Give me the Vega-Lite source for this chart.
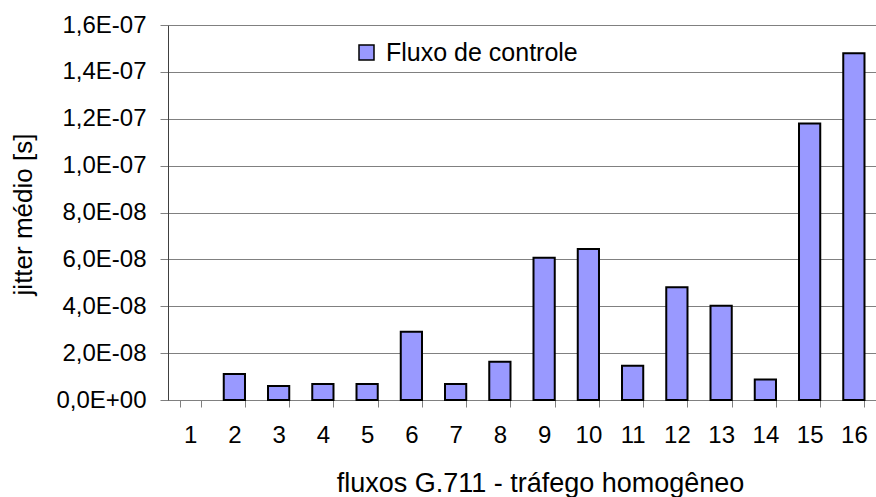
{
  "$schema": "https://vega.github.io/schema/vega-lite/v6.json",
  "width": 708,
  "height": 375,
  "autosize": {"type": "none"},
  "padding": {"left": 168, "top": 25, "right": 0, "bottom": 97},
  "background": "white",
  "config": {"font": "Liberation Sans", "view": {"stroke": null}},
  "data": {"values": [
    {"fluxos": "1", "jitter": 0, "serie": "Fluxo de controle"},
    {"fluxos": "2", "jitter": 1.11e-8, "serie": "Fluxo de controle"},
    {"fluxos": "3", "jitter": 6.0e-9, "serie": "Fluxo de controle"},
    {"fluxos": "4", "jitter": 6.8e-9, "serie": "Fluxo de controle"},
    {"fluxos": "5", "jitter": 6.8e-9, "serie": "Fluxo de controle"},
    {"fluxos": "6", "jitter": 2.91e-8, "serie": "Fluxo de controle"},
    {"fluxos": "7", "jitter": 6.8e-9, "serie": "Fluxo de controle"},
    {"fluxos": "8", "jitter": 1.63e-8, "serie": "Fluxo de controle"},
    {"fluxos": "9", "jitter": 6.07e-8, "serie": "Fluxo de controle"},
    {"fluxos": "10", "jitter": 6.44e-8, "serie": "Fluxo de controle"},
    {"fluxos": "11", "jitter": 1.46e-8, "serie": "Fluxo de controle"},
    {"fluxos": "12", "jitter": 4.81e-8, "serie": "Fluxo de controle"},
    {"fluxos": "13", "jitter": 4.02e-8, "serie": "Fluxo de controle"},
    {"fluxos": "14", "jitter": 8.8e-9, "serie": "Fluxo de controle"},
    {"fluxos": "15", "jitter": 1.18e-7, "serie": "Fluxo de controle"},
    {"fluxos": "16", "jitter": 1.479e-7, "serie": "Fluxo de controle"}
  ]},
  "mark": {"type": "bar", "stroke": "black", "strokeWidth": 2},
  "encoding": {
    "x": {
      "field": "fluxos", "type": "ordinal", "sort": null,
      "scale": {"paddingInner": 0.52, "paddingOuter": 0.26},
      "axis": {
        "title": "fluxos G.711 - tráfego homogêneo",
        "titleFontSize": 27, "titleFontWeight": "normal", "titleColor": "black",
        "titleX": 372, "titleY": 91, "titleBaseline": "alphabetic", "titleAlign": "center",
        "labelFontSize": 24, "labelColor": "black", "labelAngle": 0, "labelPadding": 16,
        "tickBand": "extent", "tickSize": 7, "tickColor": "#808080", "domainColor": "#808080",
        "grid": false
      }
    },
    "y": {
      "field": "jitter", "type": "quantitative",
      "scale": {"domain": [0, 1.6e-7], "nice": false},
      "axis": {
        "title": "jitter médio [s]",
        "titleFontSize": 26, "titleFontWeight": "normal", "titleColor": "black",
        "titleX": -137, "titleY": 189, "titleBaseline": "alphabetic", "titleAlign": "center", "titleAngle": -90,
        "values": [0, 2e-8, 4e-8, 6e-8, 8e-8, 1e-7, 1.2e-7, 1.4e-7, 1.6e-7],
        "labelExpr": "replace(replace(replace(replace(format(datum.value,'.1e'),'.',','),'−','-'),'e-','E-0'),'e+','E+0')",
        "labelFontSize": 24, "labelColor": "black", "labelPadding": 14,
        "tickSize": 8, "tickColor": "#808080", "domainColor": "#404040",
        "grid": true, "gridColor": "#808080", "gridWidth": 1
      }
    },
    "color": {
      "field": "serie", "type": "nominal",
      "scale": {"range": ["#9999FF"]},
      "legend": {
        "orient": "none", "legendX": 186, "legendY": 15, "title": null,
        "symbolType": "square", "symbolSize": 225, "symbolStrokeColor": "black", "symbolStrokeWidth": 1.5,
        "labelFontSize": 25, "labelColor": "black", "labelOffset": 7, "labelLimit": 400
      }
    },
    "strokeOpacity": {"condition": {"test": "datum.jitter == 0", "value": 0}, "value": 1}
  }
}
